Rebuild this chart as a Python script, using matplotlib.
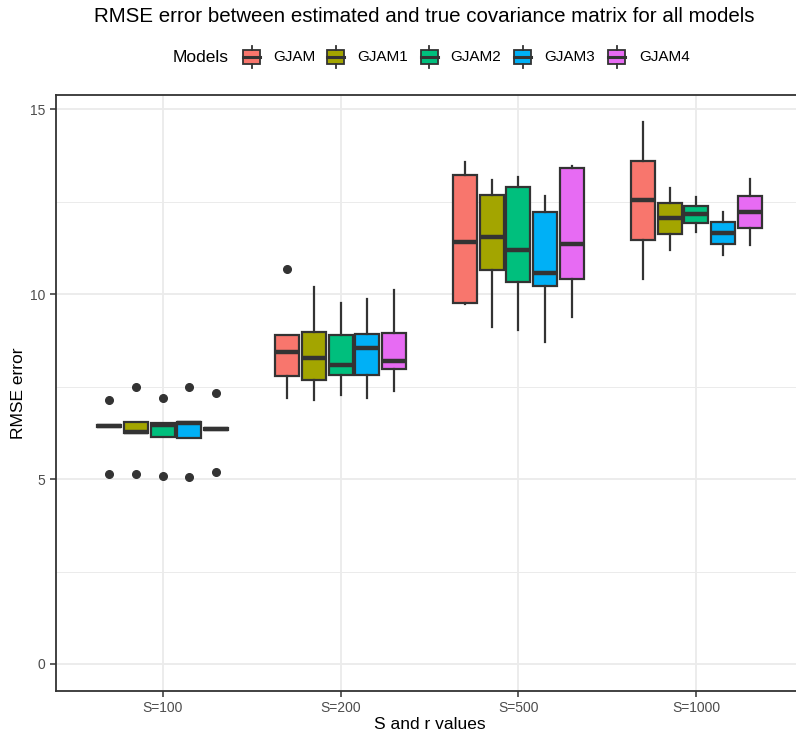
import matplotlib
matplotlib.use("Agg")
import matplotlib.pyplot as plt
from matplotlib.patches import Rectangle
from matplotlib.lines import Line2D

plt.rcParams['font.family'] = ['Liberation Sans', 'DejaVu Sans']

groups = ["S=100", "S=200", "S=500", "S=1000"]
models = ["GJAM", "GJAM1", "GJAM2", "GJAM3", "GJAM4"]
colors = ["#F8766D", "#A3A500", "#00BF7D", "#00B0F6", "#E76BF3"]

# per model: lists over groups (S=100, S=200, S=500, S=1000)
whislo = {
    "GJAM":  [6.41, 7.19, 9.74, 10.41],
    "GJAM1": [6.24, 7.14, 9.12, 11.20],
    "GJAM2": [6.14, 7.28, 9.02, 11.68],
    "GJAM3": [6.11, 7.19, 8.70, 11.06],
    "GJAM4": [6.33, 7.37, 9.39, 11.33],
}
q1 = {
    "GJAM":  [6.41, 7.79, 9.76, 11.47],
    "GJAM1": [6.24, 7.68, 10.64, 11.62],
    "GJAM2": [6.14, 7.82, 10.32, 11.92],
    "GJAM3": [6.11, 7.80, 10.23, 11.35],
    "GJAM4": [6.33, 7.97, 10.41, 11.78],
}
med = {
    "GJAM":  [6.44, 8.43, 11.42, 12.55],
    "GJAM1": [6.28, 8.26, 11.53, 12.05],
    "GJAM2": [6.45, 8.07, 11.20, 12.16],
    "GJAM3": [6.51, 8.53, 10.57, 11.65],
    "GJAM4": [6.35, 8.18, 11.36, 12.22],
}
q3 = {
    "GJAM":  [6.46, 8.90, 13.21, 13.60],
    "GJAM1": [6.54, 8.97, 12.68, 12.46],
    "GJAM2": [6.51, 8.88, 12.89, 12.39],
    "GJAM3": [6.53, 8.91, 12.22, 11.94],
    "GJAM4": [6.37, 8.95, 13.42, 12.66],
}
whishi = {
    "GJAM":  [6.46, 8.90, 13.56, 14.65],
    "GJAM1": [6.54, 10.19, 13.09, 12.86],
    "GJAM2": [6.51, 9.77, 13.16, 12.62],
    "GJAM3": [6.53, 9.86, 12.66, 12.22],
    "GJAM4": [6.37, 10.12, 13.45, 13.11],
}
fliers = {
    "GJAM":  [[5.14, 7.14], [10.68], [], []],
    "GJAM1": [[5.14, 7.50], [], [], []],
    "GJAM2": [[5.09, 7.19], [], [], []],
    "GJAM3": [[5.06, 7.49], [], [], []],
    "GJAM4": [[5.18, 7.32], [], [], []],
}

W, H = 796, 736
fig = plt.figure(figsize=(W / 100, H / 100), dpi=100)
ax = fig.add_axes([56 / W, 1 - 691 / H, (803 - 56) / W, (691 - 95) / H])

edge = "#333333"
dodge = 0.75
n = len(models)
bw = dodge / n * 0.9
for mi, m in enumerate(models):
    stats = []
    pos = []
    for gi in range(len(groups)):
        stats.append(dict(med=med[m][gi], q1=q1[m][gi], q3=q3[m][gi],
                          whislo=whislo[m][gi], whishi=whishi[m][gi],
                          fliers=fliers[m][gi]))
        pos.append(gi + 1 - dodge / 2 + dodge / n * (mi + 0.5))
    ax.bxp(stats, positions=pos, widths=bw, patch_artist=True,
           showcaps=False, manage_ticks=False,
           boxprops=dict(facecolor=colors[mi], edgecolor=edge, linewidth=1.6),
           whiskerprops=dict(color=edge, linewidth=1.6),
           medianprops=dict(color=edge, linewidth=3.2, solid_capstyle='butt'),
           flierprops=dict(marker='o', markerfacecolor=edge, markeredgecolor=edge,
                           markersize=5.5, linestyle='none'),
           zorder=3)

ax.set_xlim(0.4, 4.6)
ax.set_ylim(-0.73, 15.38)
ax.set_xticks(range(1, len(groups) + 1))
ax.set_xticklabels(groups)
ax.set_yticks([0, 5, 10, 15])
ax.set_yticks([2.5, 7.5, 12.5], minor=True)
ax.grid(True, which='major', color='#EBEBEB', linewidth=1.3, zorder=0)
ax.grid(True, which='minor', axis='y', color='#EBEBEB', linewidth=0.7, zorder=0)
ax.set_axisbelow(True)
for s in ax.spines.values():
    s.set_color(edge)
    s.set_linewidth(1.3)
ax.spines['right'].set_visible(False)
ax.tick_params(axis='both', which='major', colors=edge, labelcolor='#4D4D4D',
               labelsize=10, length=4, width=1.1)
ax.tick_params(axis='both', which='minor', length=0)
ax.set_xlabel("S and r values", fontsize=12.5, color='black', labelpad=1)
ax.set_ylabel("RMSE error", fontsize=12.5, color='black', labelpad=3)

fig.text(424 / W, 1 - 17 / H, "RMSE error between estimated and true covariance matrix for all models",
         ha='center', va='center', fontsize=14.8, color='black')

# legend
ly = 1 - 57 / H
fig.text(173 / W, ly, "Models", ha='left', va='center', fontsize=12.5, color='black')
key_x = [243, 327, 421, 514, 608]
lab_x = [273, 357, 450, 544, 639]
ks = 17
for i, m in enumerate(models):
    kx = key_x[i]
    cy = 57
    bx0 = kx
    bw_px = ks
    rect = Rectangle((bx0 / W, 1 - (cy + 7) / H), bw_px / W, 14 / H,
                     transform=fig.transFigure, facecolor=colors[i], edgecolor=edge,
                     linewidth=1.3)
    fig.add_artist(rect)
    xc = (bx0 + bw_px / 2) / W
    fig.add_artist(Line2D([xc, xc], [1 - (cy - 7) / H, 1 - (cy - 11) / H],
                          transform=fig.transFigure, color=edge, linewidth=1.3))
    fig.add_artist(Line2D([xc, xc], [1 - (cy + 7) / H, 1 - (cy + 11) / H],
                          transform=fig.transFigure, color=edge, linewidth=1.3))
    fig.add_artist(Line2D([bx0 / W, (bx0 + bw_px) / W], [1 - cy / H, 1 - cy / H],
                          transform=fig.transFigure, color=edge, linewidth=2.2))
    fig.text(lab_x[i] / W, ly, m, ha='left', va='center', fontsize=11, color='black')

fig.savefig("out.png", dpi=100)
